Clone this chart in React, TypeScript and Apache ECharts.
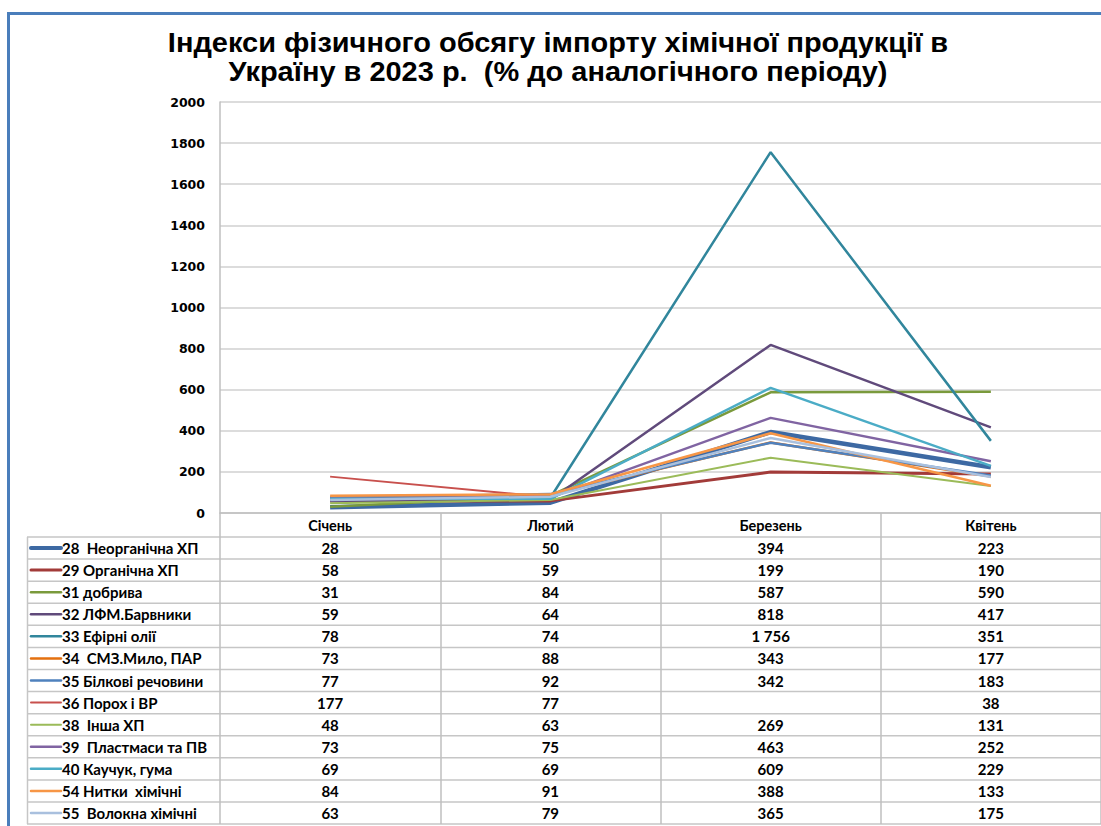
import React, { useEffect, useRef } from 'react';
import * as echarts from 'echarts';

const categories = ['Січень', 'Лютий', 'Березень', 'Квітень'];

const titleLines = [
  'Індекси фізичного обсягу імпорту хімічної продукції в',
  'Україну в 2023 р.  (% до аналогічного періоду)',
];

const seriesNames = [
  '28  Неорганічна ХП',
  '29 Органічна ХП',
  '31 добрива',
  '32 ЛФМ.Барвники',
  '33 Ефірні олії',
  '34  СМЗ.Мило, ПАР',
  '35 Білкові речовини',
  '36 Порох і ВР',
  '38  Інша ХП',
  '39  Пластмаси та ПВ',
  '40 Каучук, гума',
  '54 Нитки  хімічні',
  '55  Волокна хімічні',
];

const s28 = [28, 50, 394, 223];
const s29 = [58, 59, 199, 190];
const s31 = [31, 84, 587, 590];
const s32 = [59, 64, 818, 417];
const s33 = [78, 74, 1756, 351];
const s34 = [73, 88, 343, 177];
const s35 = [77, 92, 342, 183];
const s36 = [177, 77, null, 38];
const s38 = [48, 63, 269, 131];
const s39 = [73, 75, 463, 252];
const s40 = [69, 69, 609, 229];
const s54 = [84, 91, 388, 133];
const s55 = [63, 79, 365, 175];

const seriesValues: (number | null)[][] = [s28, s29, s31, s32, s33, s34, s35, s36, s38, s39, s40, s54, s55];

const colors = [
  '#3D69A3', '#A23B39', '#7A9A3C', '#604A7B', '#31869C', '#E4700F', '#4F81BD',
  '#C8504D', '#9BBB59', '#8064A2', '#4BACC6', '#F79646', '#A9C0DE',
];
const widths = [4.5, 3, 2.5, 2.5, 2.5, 2.5, 2.5, 2, 2, 2.5, 2.5, 2.5, 2.5];

const fmt = (v: number | null) => {
  if (v == null) return '';
  if (v >= 1000) return `${Math.floor(v / 1000)} ${String(v % 1000).padStart(3, '0')}`;
  return String(v);
};

export default function App() {
  const ref = useRef<HTMLDivElement>(null);
  useEffect(() => {
    const chart = echarts.init(ref.current!, null, { renderer: 'svg' });
    const gridLeft = 220;
    const gridTop = 102;
    const gridBottomY = 513;
    const tableTop = 537;
    const rowH = 22.08;
    const tableBottom = tableTop + rowH * seriesNames.length;

    chart.setOption({
      animation: false,
      backgroundColor: '#ffffff',
      grid: { left: gridLeft, right: -7, top: gridTop, bottom: 826 - gridBottomY, containLabel: false },
      xAxis: {
        type: 'category',
        data: categories,
        boundaryGap: true,
        axisLine: { show: true, lineStyle: { color: '#BFBFBF', width: 1.5 } },
        axisTick: { show: true, length: tableBottom - gridBottomY, lineStyle: { color: '#BFBFBF', width: 1.5 } },
        axisLabel: { margin: 5, color: '#000', fontFamily: 'Lato', fontWeight: 'bold', fontSize: 14.5 },
      },
      yAxis: {
        type: 'value',
        min: 0,
        max: 2000,
        interval: 200,
        axisLine: { show: true, lineStyle: { color: '#BFBFBF', width: 1.5 } },
        axisTick: { show: false },
        axisLabel: {
          margin: 15,
          color: '#000',
          fontFamily: 'DejaVu Sans',
          fontWeight: 'bold',
          fontSize: 12.5,
          formatter: (v: number) => String(v),
        },
        splitLine: { show: true, lineStyle: { color: '#D0D0D0', width: 1.5 } },
      },
      series: seriesNames.map((name, i) => ({
        name,
        type: 'line',
        data: seriesValues[i],
        symbol: 'none',
        showSymbol: false,
        connectNulls: false,
        lineStyle: { color: colors[i], width: widths[i] },
        itemStyle: { color: colors[i] },
      })),
    });

    const xs = categories.map((c) => chart.convertToPixel({ xAxisIndex: 0 }, c) as number);

    const graphics: any[] = [];
    graphics.push({
      type: 'polyline',
      silent: true,
      shape: { points: [[8.5, 826], [8.5, 13.5], [1101, 13.5]] },
      style: { stroke: '#4A7EBB', lineWidth: 3, fill: 'none' },
    });
    titleLines.forEach((t, k) => {
      graphics.push({
        type: 'text',
        silent: true,
        x: 558,
        y: 42 + k * 29,
        scaleX: 1.035,
        style: {
          text: t,
          fill: '#000',
          fontFamily: 'Liberation Sans',
          fontWeight: 'bold',
          fontSize: 28,
          align: 'center',
          verticalAlign: 'middle',
        },
      });
    });
    for (let i = 0; i <= seriesNames.length; i++) {
      const y = tableTop + rowH * i;
      graphics.push({
        type: 'line',
        silent: true,
        shape: { x1: 27, y1: y, x2: 1101, y2: y },
        style: { stroke: '#C6C6C6', lineWidth: 1.5 },
      });
    }
    graphics.push({
      type: 'line',
      silent: true,
      shape: { x1: 27.5, y1: tableTop, x2: 27.5, y2: tableBottom },
      style: { stroke: '#C6C6C6', lineWidth: 1.5 },
    });
    seriesNames.forEach((name, i) => {
      const y = tableTop + rowH * (i + 0.5);
      graphics.push({
        type: 'line',
        silent: true,
        shape: { x1: 31, y1: y, x2: 61, y2: y },
        style: { stroke: colors[i], lineWidth: Math.min(widths[i], 4), lineCap: 'round' },
      });
      graphics.push({
        type: 'text',
        silent: true,
        x: 62,
        y,
        style: {
          text: name,
          fill: '#000',
          fontFamily: 'Lato',
          fontWeight: 'bold',
          fontSize: 15,
          align: 'left',
          verticalAlign: 'middle',
        },
      });
      seriesValues[i].forEach((v, j) => {
        graphics.push({
          type: 'text',
          silent: true,
          x: xs[j],
          y,
          style: {
            text: fmt(v),
            fill: '#000',
            fontFamily: 'Lato',
            fontWeight: 'bold',
            fontSize: 15,
            align: 'center',
            verticalAlign: 'middle',
          },
        });
      });
    });

    chart.setOption({ graphic: graphics });
    return () => chart.dispose();
  }, []);
  return <div ref={ref} style={{ position: 'fixed', left: 0, top: 0, width: 1101, height: 826 }} />;
}
